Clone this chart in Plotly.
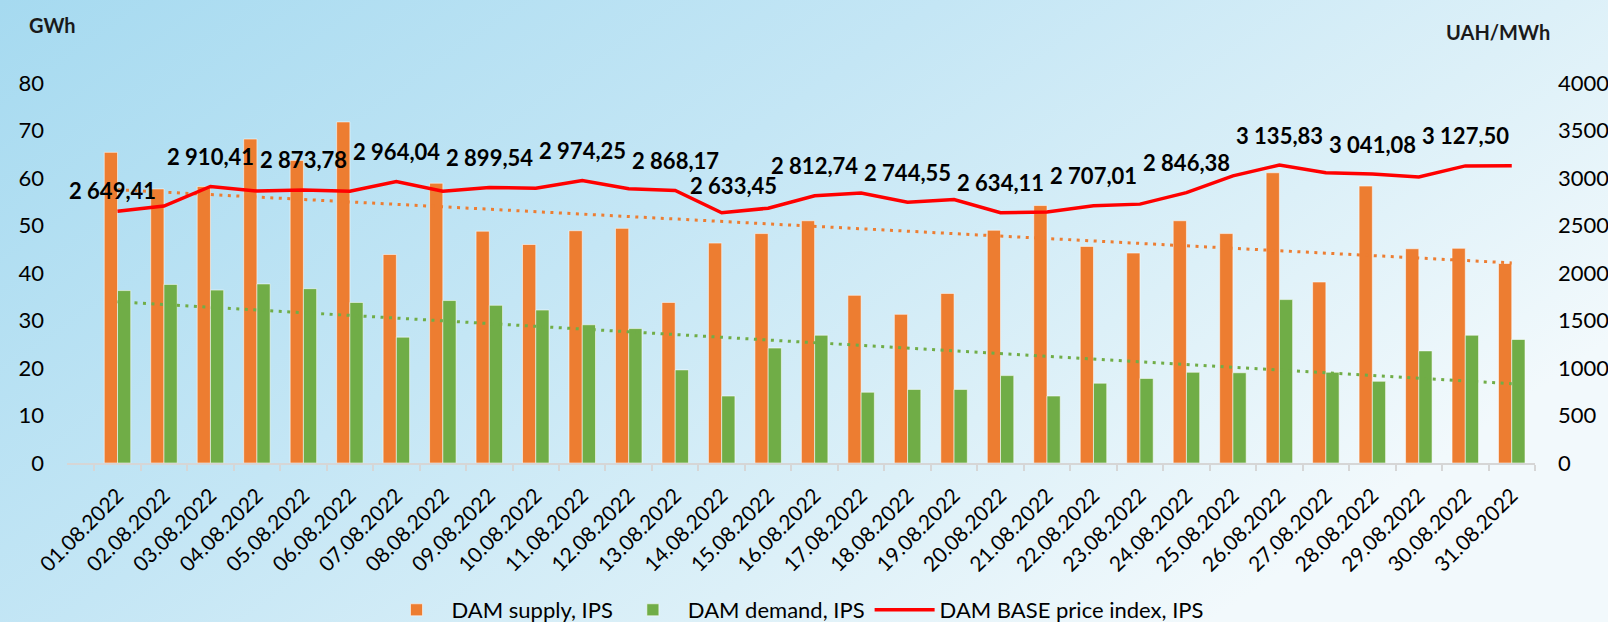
import base64
import numpy as np
import plotly.graph_objects as go

dates = ["01.08.2022", "02.08.2022", "03.08.2022", "04.08.2022", "05.08.2022", "06.08.2022",
         "07.08.2022", "08.08.2022", "09.08.2022", "10.08.2022", "11.08.2022", "12.08.2022",
         "13.08.2022", "14.08.2022", "15.08.2022", "16.08.2022", "17.08.2022", "18.08.2022",
         "19.08.2022", "20.08.2022", "21.08.2022", "22.08.2022", "23.08.2022", "24.08.2022",
         "25.08.2022", "26.08.2022", "27.08.2022", "28.08.2022", "29.08.2022", "30.08.2022",
         "31.08.2022"]

supply = [65.4, 57.7, 58.2, 68.2, 63.7, 71.8, 43.9, 58.9, 48.8, 46.0, 48.9, 49.4, 33.8, 46.3,
          48.3, 51.0, 35.3, 31.3, 35.7, 49.0, 54.2, 45.6, 44.2, 51.0, 48.3, 61.1, 38.1, 58.3,
          45.1, 45.2, 42.0]

demand = [36.3, 37.6, 36.4, 37.7, 36.7, 33.8, 26.5, 34.2, 33.2, 32.2, 29.1, 28.3, 19.6, 14.1,
          24.2, 26.9, 14.9, 15.5, 15.5, 18.4, 14.1, 16.8, 17.8, 19.1, 19.0, 34.4, 19.1, 17.2,
          23.6, 26.9, 26.0]

price = [2649.41, 2705, 2910.41, 2862, 2873.78, 2860, 2964.04, 2860, 2899.54, 2893, 2974.25,
         2886, 2868.17, 2633.45, 2682, 2812.74, 2843, 2744.55, 2773, 2634.11, 2643, 2707.01,
         2725, 2846.38, 3023, 3135.83, 3055, 3041.08, 3010, 3127.50, 3130]

labeled_days = [1, 3, 5, 7, 9, 11, 13, 14, 16, 18, 20, 22, 24, 26, 28, 30]

left_ticks = [0, 10, 20, 30, 40, 50, 60, 70, 80]
right_ticks = [0, 500, 1000, 1500, 2000, 2500, 3000, 3500, 4000]

ORANGE = "#ED7D31"
GREEN = "#70AD47"
RED = "#FF0000"
FONT = "Lato"

W, H = 1608, 622
ML, MR, MT, MB = 67, 73, 83, 159
PW, PH = W - ML - MR, H - MT - MB


def px_x(x):
    return (x - ML) / PW


def px_y(y):
    return (H - MB - y) / PH


# linear trendlines (Excel-style) fitted to the data
idx = np.arange(1, len(dates) + 1)
supply_trend = np.polyval(np.polyfit(idx, supply, 1), idx)
demand_trend = np.polyval(np.polyfit(idx, demand, 1), idx)

fig = go.Figure()

fig.add_trace(go.Bar(x=dates, y=supply, name="DAM supply, IPS", marker_color=ORANGE,
                     marker_line=dict(color="rgba(255,255,255,0.55)", width=1)))
fig.add_trace(go.Bar(x=dates, y=demand, name="DAM demand, IPS", marker_color=GREEN,
                     marker_line=dict(color="rgba(255,255,255,0.55)", width=1)))
fig.add_trace(go.Scatter(x=dates, y=supply_trend, mode="lines", showlegend=False,
                         line=dict(color=ORANGE, width=3, dash="3px,5.5px"), hoverinfo="skip"))
fig.add_trace(go.Scatter(x=dates, y=demand_trend, mode="lines", showlegend=False,
                         line=dict(color=GREEN, width=3, dash="3px,5.5px"), hoverinfo="skip"))
fig.add_trace(go.Scatter(x=dates, y=price, name="DAM BASE price index, IPS", mode="lines",
                         yaxis="y2", line=dict(color=RED, width=3.5)))


def fmt(v):
    s = f"{v:,.2f}"
    return s.replace(",", " ").replace(".", ",")


annotations = []
for d in labeled_days:
    i = d - 1
    xs, ys = 0, 30
    if d == 1:
        xs, ys = -5, 21
    elif d == 14:
        xs, ys = 12, 27
    annotations.append(dict(x=dates[i], y=price[i], xref="x", yref="y2", text=fmt(price[i]),
                            showarrow=False, xshift=xs, yshift=ys, yanchor="middle",
                            font=dict(family=FONT, size=22, color="#000000", weight="bold")))

annotations.append(dict(x=px_x(52), y=px_y(25), xref="paper", yref="paper", text="GWh",
                        showarrow=False, xanchor="center", yanchor="middle",
                        font=dict(family=FONT, size=20, color="#1a1a1a", weight="bold")))
annotations.append(dict(x=px_x(1498), y=px_y(32), xref="paper", yref="paper", text="UAH/MWh",
                        showarrow=False, xanchor="center", yanchor="middle",
                        font=dict(family=FONT, size=20, color="#1a1a1a", weight="bold")))

svg = (
    '<svg xmlns="http://www.w3.org/2000/svg" width="1608" height="622" preserveAspectRatio="none">'
    '<defs><linearGradient id="g" x1="0" y1="0" x2="1" y2="0.55">'
    '<stop offset="0" stop-color="#a6daf0"/>'
    '<stop offset="0.45" stop-color="#c4e6f5"/>'
    '<stop offset="0.75" stop-color="#dcf0f8"/>'
    '<stop offset="1" stop-color="#f2f9fc"/>'
    '</linearGradient></defs>'
    '<rect x="0" y="0" width="1608" height="622" fill="url(#g)"/></svg>'
)
src = "data:image/svg+xml;base64," + base64.b64encode(svg.encode()).decode()

fig.update_layout(
    width=W, height=H,
    margin=dict(l=ML, r=MR, t=MT, b=MB, pad=0, autoexpand=False),
    paper_bgcolor="#cbe9f6",
    plot_bgcolor="rgba(0,0,0,0)",
    barmode="group", bargap=0.43, bargroupgap=0,
    font=dict(family=FONT, size=22, color="#000000"),
    images=[dict(source=src, xref="paper", yref="paper", x=-ML / PW, y=1 + MT / PH,
                 sizex=W / PW, sizey=H / PH, xanchor="left", yanchor="top",
                 sizing="stretch", layer="below")],
    xaxis=dict(type="category", tickangle=-45, tickfont=dict(family=FONT, size=21),
               showgrid=False, showline=True, linecolor="#d6d6d6", linewidth=2,
               ticks="outside", tickson="boundaries", ticklen=6, tickcolor="#d6d6d6",
               tickwidth=2, zeroline=False, ticklabelstandoff=10, automargin=False),
    yaxis=dict(range=[0, 80], tickvals=left_ticks, showgrid=False, zeroline=False,
               showline=False, ticks="", ticklabelstandoff=22, automargin=False,
               tickfont=dict(family=FONT, size=22)),
    yaxis2=dict(range=[0, 4000], tickvals=right_ticks, overlaying="y", side="right",
                showgrid=False, zeroline=False, showline=False, ticks="",
                ticklabelstandoff=22, automargin=False, tickfont=dict(family=FONT, size=22)),
    legend=dict(orientation="h", x=px_x(795), xanchor="center", y=px_y(610),
                yanchor="middle", font=dict(family=FONT, size=22, color="#000000"),
                bgcolor="rgba(0,0,0,0)", traceorder="normal", itemwidth=60),
    annotations=annotations,
    showlegend=True,
)

fig.write_html("out.html", config={"displayModeBar": False},
               post_script="document.body.style.margin='0';document.body.style.overflow='hidden';")
